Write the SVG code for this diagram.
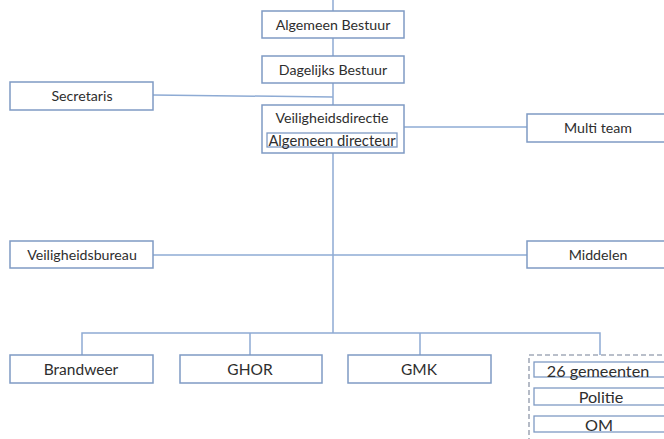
<svg xmlns="http://www.w3.org/2000/svg" width="664" height="439" viewBox="0 0 664 439">
<style>
.box{fill:#fff;stroke:#7f9ac4;stroke-width:1.5}
.ibox{fill:#fff;stroke:#7f9ac4;stroke-width:1.3}
.ln{fill:none;stroke:#8eabd4;stroke-width:1.5}
.t{font-family:Lato,"Open Sans",sans-serif;font-size:14.2px;fill:#2e2e2e;text-anchor:middle}
.ti{font-family:Lato,"Open Sans",sans-serif;font-size:14.8px;fill:#2e2e2e;text-anchor:middle}
.tm{font-family:Lato,"Open Sans",sans-serif;font-size:15.5px;fill:#2e2e2e;text-anchor:middle}
.tb{font-family:Lato,"Open Sans",sans-serif;font-size:16.2px;fill:#2e2e2e;text-anchor:middle}
.dash{fill:none;stroke:#a3abb9;stroke-width:1.6;stroke-dasharray:5,3}
</style>
<rect width="664" height="439" fill="#fff"/>
<g id="connectors">
<path class="ln" d="M333 0V11M333 38V56M333 83V105M333 153V333"/>
<path class="ln" d="M153 95L333 97"/>
<path class="ln" d="M404 127H527"/>
<path class="ln" d="M153 255H527"/>
<path class="ln" d="M82 355V333H600V355M250 333V355M420 333V355"/>
</g>
<g id="algemeen-bestuur"><rect class="box" x="262" y="11" width="142" height="27"/><text class="t" x="333" y="29.5">Algemeen Bestuur</text></g>
<g id="dagelijks-bestuur"><rect class="box" x="262" y="56" width="142" height="27"/><text class="t" x="333" y="74.5">Dagelijks Bestuur</text></g>
<g id="secretaris"><rect class="box" x="10" y="82" width="143" height="28"/><text class="t" x="82" y="100.5">Secretaris</text></g>
<g id="veiligheidsdirectie"><rect class="box" x="262" y="105" width="142" height="48"/><text class="t" x="332" y="122.5">Veiligheidsdirectie</text>
<g id="algemeen-directeur"><rect class="ibox" x="267" y="133" width="130" height="14"/><text class="ti" x="332" y="145.5">Algemeen directeur</text></g></g>
<g id="multi-team"><rect class="box" x="527" y="114" width="145" height="28"/><text class="t" x="598" y="132.5">Multi team</text></g>
<g id="veiligheidsbureau"><rect class="box" x="10" y="241" width="143" height="27"/><text class="t" x="82" y="259.5">Veiligheidsbureau</text></g>
<g id="middelen"><rect class="box" x="527" y="241" width="145" height="27"/><text class="t" x="598" y="259.5">Middelen</text></g>
<g id="brandweer"><rect class="box" x="10" y="355" width="143" height="28"/><text class="tm" x="81" y="374.5">Brandweer</text></g>
<g id="ghor"><rect class="box" x="180" y="355" width="142" height="28"/><text class="tm" x="250" y="374.5">GHOR</text></g>
<g id="gmk"><rect class="box" x="348" y="355" width="143" height="28"/><text class="tm" x="419" y="374.5">GMK</text></g>
<g id="partners">
<rect class="dash" x="529" y="355" width="145" height="95"/>
<g id="gemeenten"><rect class="ibox" x="534" y="362" width="135" height="15"/><text class="tb" x="598" y="376.5">26 gemeenten</text></g>
<g id="politie"><rect class="ibox" x="534" y="388" width="135" height="17"/><text class="tb" x="601" y="402.5">Politie</text></g>
<g id="om"><rect class="ibox" x="534" y="416" width="135" height="16"/><text class="tb" x="599" y="430.5">OM</text></g>
</g>
</svg>
